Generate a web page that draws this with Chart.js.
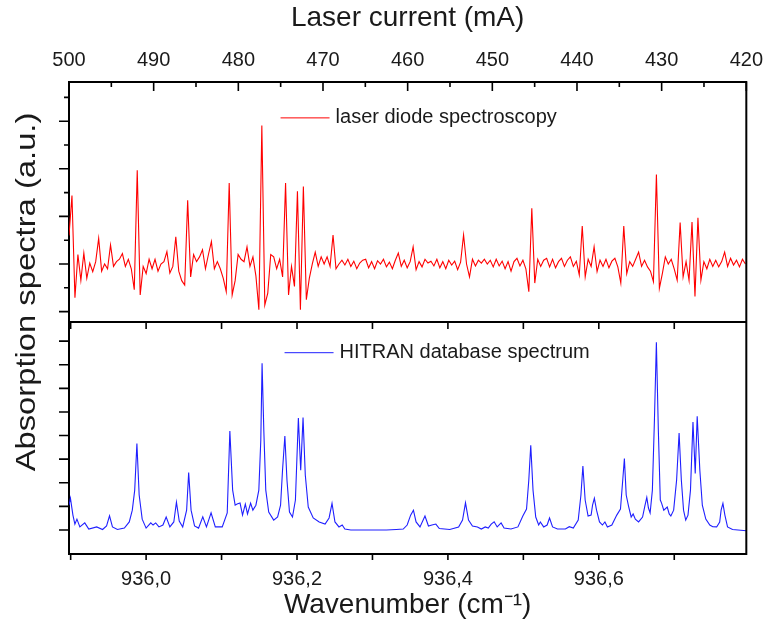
<!DOCTYPE html>
<html>
<head>
<meta charset="utf-8">
<title>Absorption spectra</title>
<script src="https://cdn.jsdelivr.net/npm/chart.js@4.4.1/dist/chart.umd.min.js"></script>
<style>
  html, body { margin: 0; padding: 0; background: #fff; }
  canvas { display: block; }
</style>
</head>
<body>
<canvas id="spectra" width="773" height="623"></canvas>
<script>
// ---- data ----

// laser diode scan, evenly spaced samples starting at scanStart (cm-1)
const scanStart = 935.8978;
const scanStep = 0.003932;
const diodeSignal = [
  0.6, 1.44, -0.71, 0.2, -0.34, 0.23, -0.3, 0.02, -0.16, 0.05,
  0.54, -0.15, 0.0, -0.1, 0.4, -0.05, 0.05, 0.1, 0.22, -0.05,
  0.1, -0.1, -0.54, 1.97, -0.65, -0.05, -0.2, 0.1, -0.1, 0.1,
  -0.15, 0.0, 0.05, 0.26, -0.19, -0.05, 0.57, -0.15, -0.35, -0.44,
  1.34, -0.27, 0.2, 0.05, 0.15, 0.3, -0.1, 0.2, 0.47, -0.1,
  0.05, -0.1, -0.3, -0.58, 1.7, -0.65, -0.35, 0.2, 0.1, 0.05,
  0.36, -0.05, 0.15, -0.25, -0.96, 2.91, -0.86, -0.61, 0.2, 0.15,
  -0.1, 0.1, -0.27, 1.7, -0.65, -0.05, -0.47, 1.53, -0.96, 1.63,
  -0.75, -0.3, 0.0, 0.25, -0.05, 0.15, 0.0, 0.15, -0.05, 0.61,
  -0.1, 0.0, 0.08, -0.02, 0.1, -0.05, 0.06, -0.1, 0.02, 0.08,
  0.1, -0.08, 0.05, -0.1, 0.07, 0.0, 0.1, -0.06, 0.04, -0.1,
  0.08, 0.23, -0.05, 0.08, -0.08, 0.05, 0.36, -0.12, 0.05, -0.06,
  0.1, 0.02, 0.06, -0.04, 0.1, -0.08, 0.05, -0.1, 0.08, -0.02,
  0.06, -0.12, 0.04, 0.61, 0.0, -0.27, 0.1, -0.04, 0.08, 0.02,
  0.1, 0.0, 0.08, -0.06, 0.1, -0.04, 0.06, -0.1, 0.05, -0.15,
  0.05, 0.12, -0.04, 0.08, -0.1, -0.58, 1.17, -0.4, 0.1, -0.05,
  0.08, 0.12, -0.06, 0.1, -0.08, 0.05, 0.12, -0.05, 0.08, 0.15,
  -0.05, 0.06, -0.23, 0.8, -0.27, 0.1, -0.05, 0.36, -0.16, 0.08,
  -0.05, 0.1, -0.08, 0.06, 0.12, -0.06, -0.4, 0.8, -0.2, 0.05,
  -0.05, 0.1, 0.25, -0.05, 0.08, -0.06, -0.15, -0.37, 1.88, -0.51,
  -0.2, 0.15, 0.0, 0.1, -0.1, -0.34, 0.87, -0.27, 0.05, -0.34,
  0.88, -0.68, 0.97, -0.34, 0.05, -0.1, 0.1, -0.05, 0.08, -0.06,
  0.05, 0.25, -0.05, 0.12, -0.02, 0.08, -0.06, 0.1, 0.0
];

// HITRAN simulated spectrum (wavenumber, absorption)
const hitranWn = [
  935.8978, 935.8997, 935.9030, 935.9056, 935.9083, 935.9122, 935.9187, 935.9240, 935.9345, 935.9423,
  935.9476, 935.9515, 935.9554, 935.9620, 935.9712, 935.9777, 935.9817, 935.9849, 935.9878, 935.9908,
  935.9948, 936.0000, 936.0062, 936.0092, 936.0127, 936.0170, 936.0223, 936.0266, 936.0315, 936.0367,
  936.0402, 936.0439, 936.0485, 936.0537, 936.0564, 936.0596, 936.0642, 936.0695, 936.0751, 936.0800,
  936.0861, 936.0917, 936.1009, 936.1075, 936.1110, 936.1147, 936.1180, 936.1206, 936.1245, 936.1278,
  936.1315, 936.1344, 936.1385, 936.1415, 936.1455, 936.1494, 936.1520, 936.1537, 936.1560, 936.1586,
  936.1625, 936.1691, 936.1743, 936.1782, 936.1808, 936.1839, 936.1867, 936.1900, 936.1940, 936.1979,
  936.2018, 936.2049, 936.2080, 936.2110, 936.2149, 936.2215, 936.2294, 936.2372, 936.2425, 936.2464,
  936.2503, 936.2556, 936.2599, 936.2634, 936.2713, 936.2923, 936.3185, 936.3316, 936.3408, 936.3460,
  936.3506, 936.3543, 936.3578, 936.3630, 936.3696, 936.3742, 936.3788, 936.3840, 936.3886, 936.4024,
  936.4142, 936.4194, 936.4233, 936.4273, 936.4325, 936.4391, 936.4443, 936.4495, 936.4535, 936.4574,
  936.4613, 936.4653, 936.4705, 936.4744, 936.4836, 936.4928, 936.4993, 936.5042, 936.5072, 936.5098,
  936.5128, 936.5164, 936.5203, 936.5225, 936.5269, 936.5315, 936.5347, 936.5387, 936.5452, 936.5557,
  936.5609, 936.5662, 936.5727, 936.5763, 936.5789, 936.5819, 936.5858, 936.5898, 936.5917, 936.5941,
  936.5970, 936.6009, 936.6048, 936.6081, 936.6114, 936.6173, 936.6238, 936.6287, 936.6317, 936.6339,
  936.6363, 936.6396, 936.6429, 936.6455, 936.6484, 936.6527, 936.6580, 936.6610, 936.6636, 936.6658,
  936.6680, 936.6710, 936.6737, 936.6763, 936.6789, 936.6815, 936.6832, 936.6861, 936.6907, 936.6933,
  936.6955, 936.6992, 936.7031, 936.7064, 936.7094, 936.7123, 936.7152, 936.7182, 936.7215, 936.7248,
  936.7278, 936.7304, 936.7339, 936.7372, 936.7418, 936.7471, 936.7510, 936.7562, 936.7602, 936.7621,
  936.7645, 936.7671, 936.7706, 936.7772, 936.7955
];
const hitranAbs = [
  1.05, 1.35, 0.63, 0.25, 0.46, 0.13, 0.30, 0.04, 0.13, 0.02,
  0.17, 0.60, 0.13, 0.02, 0.08, 0.34, 0.84, 1.69, 3.66, 1.48,
  0.46, 0.08, 0.30, 0.21, 0.30, 0.13, 0.21, 0.55, 0.13, 0.34,
  1.18, 0.38, 0.13, 0.84, 2.43, 0.84, 0.17, 0.08, 0.56, 0.13,
  0.73, 0.13, 0.13, 0.72, 4.19, 1.69, 1.05, 1.10, 1.14, 0.63,
  1.10, 0.68, 1.14, 0.84, 1.05, 1.69, 3.80, 7.06, 4.22, 1.69,
  0.76, 0.42, 0.55, 1.05, 2.53, 3.98, 2.11, 0.76, 0.55, 1.27,
  4.74, 2.53, 4.76, 2.32, 0.97, 0.51, 0.34, 0.25, 0.51, 1.13,
  0.34, 0.13, 0.21, 0.04, 0.0, 0.0, 0.0, 0.02, 0.04, 0.21,
  0.63, 0.84, 0.34, 0.13, 0.59, 0.17, 0.21, 0.25, 0.06, 0.02,
  0.13, 0.42, 1.15, 0.42, 0.17, 0.13, 0.04, 0.13, 0.08, 0.25,
  0.35, 0.13, 0.30, 0.08, 0.04, 0.13, 0.59, 0.89, 2.11, 3.59,
  1.69, 0.55, 0.21, 0.34, 0.13, 0.21, 0.51, 0.13, 0.04, 0.04,
  0.14, 0.08, 0.42, 1.48, 2.71, 1.27, 0.59, 0.63, 1.05, 1.34,
  0.84, 0.34, 0.21, 0.34, 0.13, 0.21, 0.63, 0.89, 2.11, 3.03,
  1.48, 0.98, 0.55, 0.68, 0.46, 0.34, 0.55, 1.01, 1.38, 0.93,
  0.72, 1.69, 4.64, 7.95, 4.22, 1.27, 1.14, 0.84, 0.97, 0.68,
  0.59, 0.84, 2.11, 4.11, 2.11, 0.84, 0.42, 0.63, 1.69, 4.57,
  2.39, 4.82, 2.53, 1.05, 0.46, 0.21, 0.14, 0.13, 0.34, 0.84,
  1.13, 0.63, 0.13, 0.02, -0.03
];

// axis ranges
const wnRange = [935.8978, 936.7955];
const currentRange = [420, 500];
const diodeRange = [-1.218, 3.824];
const hitranRange = [-1.017, 8.81];

// ---- look ----
const FONT = "'Liberation Sans', Arial, sans-serif";
const INK = '#1a1a1a';
Chart.defaults.font.family = FONT;
Chart.defaults.color = INK;

// frame pieces and tick marks Chart.js can't do by itself (inward + minor ticks)
const frameTicks = {
  id: 'frameTicks',
  afterDraw(chart) {
    const {ctx, chartArea: a, scales: s} = chart;
    const divider = s.yBot.top;
    ctx.save();
    ctx.strokeStyle = '#000';
    ctx.lineWidth = 2;
    ctx.beginPath();
    ctx.moveTo(a.right, a.top - 1);
    ctx.lineTo(a.right, a.bottom + 1);
    ctx.moveTo(a.left, divider);
    ctx.lineTo(a.right, divider);
    ctx.stroke();

    const along = (scale, step, majorStep, lenMajor, lenMinor, draw) => {
      for (let k = Math.ceil(scale.min / step - 1e-6); k * step <= scale.max + 1e-6; k++) {
        const v = k * step;
        const q = v / majorStep;
        const major = Math.abs(q - Math.round(q)) < 1e-6;
        const p = scale.getPixelForValue(v);
        if (!scale.isHorizontal() && (p < scale.top - 0.5 || p > scale.bottom - 2)) continue;
        draw(p, major ? lenMajor : lenMinor);
      }
    };
    ctx.lineWidth = 1.6;
    ctx.beginPath();
    along(s.x2, 5, 10, 9, 5, (p, l) => { ctx.moveTo(p, a.top); ctx.lineTo(p, a.top + l); });
    along(s.x, 0.1, 0.1, 6, 6, (p, l) => { ctx.moveTo(p, a.bottom); ctx.lineTo(p, a.bottom + l); });
    along(s.x, 0.1, 0.1, 7, 7, (p, l) => { ctx.moveTo(p, divider); ctx.lineTo(p, divider + l); });
    along(s.yTop, 0.5, 1, 10, 5, (p, l) => { ctx.moveTo(a.left, p); ctx.lineTo(a.left - l, p); });
    along(s.yBot, 1, 1, 10, 10, (p, l) => { ctx.moveTo(a.left, p); ctx.lineTo(a.left - l, p); });
    ctx.stroke();
    ctx.restore();
  }
};

// one legend entry inside each panel, anchored in data units
const panelLegend = {
  id: 'panelLegend',
  afterDatasetsDraw(chart, args, opts) {
    const {ctx} = chart;
    ctx.save();
    ctx.font = `${opts.size}px ${FONT}`;
    ctx.textBaseline = 'middle';
    ctx.fillStyle = INK;
    opts.items.forEach(item => {
      const ds = chart.data.datasets[item.dataset];
      const x = chart.scales.x.getPixelForValue(item.x);
      const y = chart.scales[ds.yAxisID].getPixelForValue(item.y);
      ctx.strokeStyle = ds.borderColor;
      ctx.lineWidth = 1;
      ctx.beginPath();
      ctx.moveTo(x, y);
      ctx.lineTo(x + opts.lineLength, y);
      ctx.stroke();
      ctx.fillText(ds.label, x + opts.lineLength + opts.gap, y);
    });
    ctx.restore();
  }
};

// y title shared by both panels
const sideTitle = {
  id: 'sideTitle',
  afterDraw(chart, args, opts) {
    const {ctx, chartArea: a} = chart;
    ctx.save();
    ctx.translate(a.left - opts.offset, (a.top + a.bottom) / 2 + opts.shift);
    ctx.rotate(-Math.PI / 2);
    ctx.scale(opts.stretch, 1);
    ctx.font = `${opts.size}px ${FONT}`;
    ctx.textAlign = 'center';
    ctx.textBaseline = 'middle';
    ctx.fillStyle = INK;
    ctx.fillText(opts.text, 0, 0);
    ctx.restore();
  }
};

const panelAxis = (range, weight) => ({
  type: 'linear',
  position: 'left',
  stack: 'panels',
  stackWeight: weight,
  min: range[0],
  max: range[1],
  ticks: { display: false },
  grid: { display: false, drawTicks: false },
  border: { color: '#000', width: 2 },
  afterFit: s => { s.width = 69; }
});

new Chart(document.getElementById('spectra'), {
  type: 'line',
  data: {
    datasets: [
      {
        label: 'laser diode spectroscopy',
        data: diodeSignal.map((v, i) => ({ x: scanStart + i * scanStep, y: v })),
        xAxisID: 'x',
        yAxisID: 'yTop',
        borderColor: '#ff0000',
        borderWidth: 1.1,
        pointRadius: 0,
        tension: 0
      },
      {
        label: 'HITRAN database spectrum',
        data: hitranWn.map((w, i) => ({ x: w, y: hitranAbs[i] })),
        xAxisID: 'x',
        yAxisID: 'yBot',
        borderColor: '#1f1fff',
        borderWidth: 1.1,
        pointRadius: 0,
        tension: 0
      }
    ]
  },
  options: {
    responsive: false,
    animation: false,
    layout: { padding: { right: 19 } },
    plugins: {
      legend: { display: false },
      tooltip: { enabled: false },
      panelLegend: {
        size: 20, lineLength: 49, gap: 6,
        items: [
          { dataset: 0, x: 936.1782, y: 3.07 },
          { dataset: 1, x: 936.1835, y: 7.51 }
        ]
      },
      sideTitle: { text: 'Absorption spectra (a.u.)', size: 28, stretch: 1.17, offset: 42, shift: -26 }
    },
    scales: {
      // stacked on the left: the later one ends up on top
      yBot: panelAxis(hitranRange, 232),
      yTop: panelAxis(diodeRange, 240),
      x: {
        type: 'linear',
        position: 'bottom',
        min: wnRange[0],
        max: wnRange[1],
        ticks: {
          stepSize: 0.1,
          includeBounds: false,
          autoSkip: false,
          maxRotation: 0,
          padding: 13,
          font: { size: 20 },
          callback: v => Math.round(v * 10) % 2 === 0 ? v.toFixed(1).replace('.', ',') : ''
        },
        grid: { display: false, drawTicks: false },
        border: { color: '#000', width: 2 },
        title: { display: true, text: 'Wavenumber (cm⁻¹)', font: { size: 28 }, padding: { top: 0, bottom: 1 } },
        afterFit: s => { s.height = 69; }
      },
      x2: {
        type: 'linear',
        position: 'top',
        min: currentRange[0],
        max: currentRange[1],
        reverse: true,
        ticks: { stepSize: 10, autoSkip: false, maxRotation: 0, padding: 10, font: { size: 20 } },
        grid: { display: false, drawTicks: false },
        border: { color: '#000', width: 2 },
        title: { display: true, text: 'Laser current (mA)', font: { size: 28 }, padding: { top: 1, bottom: 0 } },
        afterFit: s => { s.height = 82; }
      }
    }
  },
  plugins: [frameTicks, panelLegend, sideTitle]
});
</script>
</body>
</html>
